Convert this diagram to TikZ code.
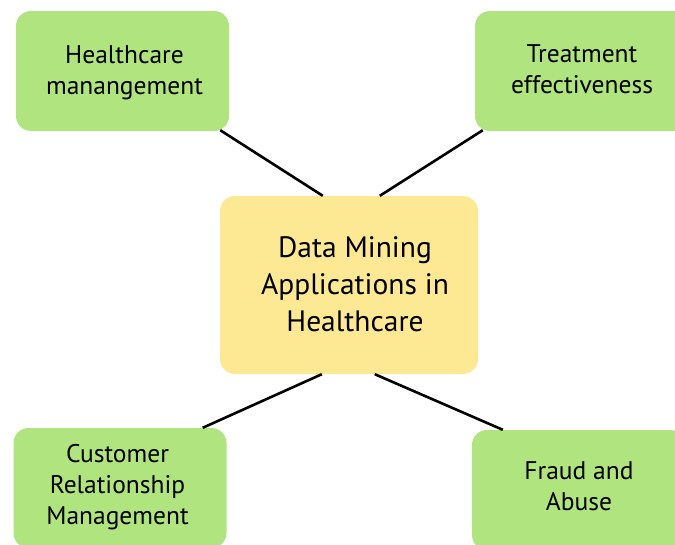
\documentclass[tikz,border=0pt]{standalone}
\usepackage{fontspec}
\setmainfont{PT Sans}
\usetikzlibrary{calc}
\definecolor{boxgreen}{RGB}{176,228,126}
\definecolor{boxyellow}{RGB}{253,232,148}
\begin{document}
\begin{tikzpicture}[x=1pt,y=-1pt,
  leaf/.style={fill=boxgreen, rounded corners=15pt, minimum width=213pt, minimum height=120pt, inner sep=0pt},
  hub/.style={fill=boxyellow, rounded corners=15pt, minimum width=258pt, minimum height=178pt, inner sep=0pt},
  leaftext/.style={inner sep=0pt, align=center, font=\fontsize{25.5}{31}\selectfont},
  hubtext/.style={inner sep=0pt, align=center, font=\fontsize{29.5}{37}\selectfont},
  link/.style={line width=2.6pt, black}]
\useasboundingbox (0,0) rectangle (675,544);
\clip (0,0) rectangle (675,544);
\node[hub] (c) at (349,285) {};
\node[leaf] (tl) at (122.5,71) {};
\node[leaf] (tr) at (581.5,71) {};
\node[leaf] (bl) at (120,488) {};
\node[leaf] (br) at (578.5,490) {};
\node[hubtext] (ct) at ($(c.center)+(6,2.5)$) {\strut Data Mining\\Applications in\\Healthcare\strut};
\node[leaftext] (tlt) at ($(tl.center)+(2,1.3)$) {\strut Healthcare\\manangement\strut};
\node[leaftext] (trt) at ($(tr.center)+(0.5,1)$) {\strut Treatment\\effectiveness\strut};
\node[leaftext] (blt) at ($(bl.center)+(-2.5,-1)$) {\strut Customer\\Relationship\\Management\strut};
\node[leaftext] (brt) at ($(br.center)+(0.5,-1.5)$) {\strut Fraud and\\Abuse\strut};
\draw[link] ($(tl.south east)+(-9,-1)$) -- ($(c.north west)+(103,0)$);
\draw[link] ($(tr.south west)+(8,-1)$) -- ($(c.north west)+(160,0)$);
\draw[link] ($(bl.north east)+(-24,0)$) -- ($(c.south west)+(102,0)$);
\draw[link] ($(br.north west)+(31,0)$) -- ($(c.south west)+(155,0)$);
\end{tikzpicture}
\end{document}
